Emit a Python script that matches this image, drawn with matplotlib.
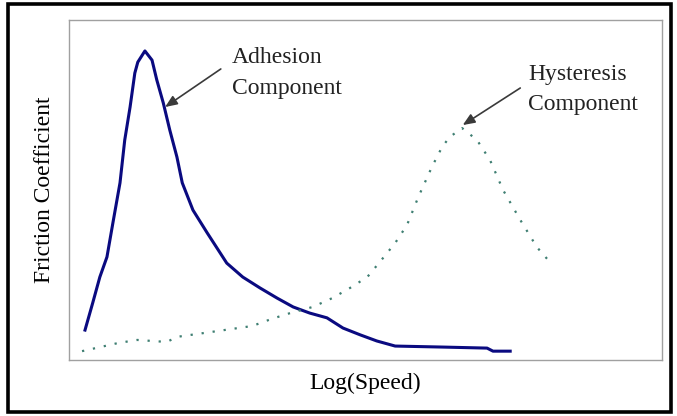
import matplotlib.pyplot as plt
from matplotlib.patches import Rectangle

# values (arbitrary units, 0-100 on both axes)
adhesion_x = [2.7, 4.0, 5.2, 6.4, 7.4, 8.6, 9.4, 10.3, 11.1, 11.6, 12.8, 14.0, 14.8, 15.9,
              17.0, 18.2, 19.1, 20.9, 23.3, 26.6, 29.3, 32.2, 35.1, 37.8, 40.6, 43.5,
              46.2, 49.1, 51.9, 55.0, 63.1, 70.5, 71.5, 74.4]
adhesion_y = [8.8, 16.8, 24.4, 30.3, 40.3, 52.1, 64.7, 74.4, 84.4, 87.6, 90.9, 88.2, 82.4, 75.6,
              67.6, 59.7, 52.1, 44.1, 37.4, 28.5, 24.4, 21.2, 18.2, 15.6, 13.8, 12.4,
              9.4, 7.4, 5.6, 4.1, 3.8, 3.5, 2.6, 2.6]

hysteresis_x = [2.2, 8.3, 11.5, 16.5, 18.2, 23.8, 30.9, 34.2, 37.3, 41.1, 44.4, 47.4, 50.3,
                52.4, 55.0, 57.0, 58.9, 61.2, 62.9, 64.2, 66.3, 68.8, 71.0, 73.2, 76.1,
                78.9, 81.1]
hysteresis_y = [2.6, 5.0, 5.9, 5.3, 6.8, 8.2, 10.0, 12.1, 13.8, 15.6, 18.2, 21.2, 24.4,
                28.8, 34.4, 39.7, 47.9, 56.8, 62.6, 65.6, 68.2, 64.7, 58.8, 50.0, 41.2,
                33.2, 28.8]

plt.rcParams['font.family'] = ['Liberation Serif', 'DejaVu Serif']

fig = plt.figure(figsize=(6.77, 4.16), dpi=100)
fig.patches.append(Rectangle((8 / 677, 4 / 416), 663 / 677, 408 / 416, transform=fig.transFigure,
                             fill=False, edgecolor='black', linewidth=2.6))

ax = fig.add_axes([69 / 677, 56 / 416, 593 / 677, 340 / 416])
ax.plot(adhesion_x, adhesion_y, color='#0a0a80', linewidth=2.2)
ax.plot(hysteresis_x, hysteresis_y, color='#3f7f72', linewidth=1.6, linestyle=(0, (1, 4)))

ax.set_xlim(0, 100)
ax.set_ylim(0, 100)
ax.set_xticks([])
ax.set_yticks([])
for sp in ax.spines.values():
    sp.set_color('#a0a0a0')
    sp.set_linewidth(1.0)

ax.set_xlabel('Log(Speed)', fontsize=17, labelpad=9)
ax.set_ylabel('Friction Coefficient', fontsize=17, labelpad=10)

arrow = dict(arrowstyle='-|>,head_length=0.6,head_width=0.25', color='#3a3a3a',
             lw=1.2, mutation_scale=12, shrinkA=0, shrinkB=0)
ax.annotate('', xy=(16.2, 74.4), xytext=(25.6, 85.6), arrowprops=arrow)
ax.annotate('', xy=(66.4, 69.1), xytext=(76.1, 80.0), arrowprops=arrow)

txt = dict(fontsize=17, color='#222222', ha='left', va='baseline')
ax.text(27.5, 87.4, 'Adhesion', **txt)
ax.text(27.5, 78.2, 'Component', **txt)
ax.text(77.4, 82.4, 'Hysteresis', **txt)
ax.text(77.4, 73.5, 'Component', **txt)

fig.savefig('out.png', dpi=100)
